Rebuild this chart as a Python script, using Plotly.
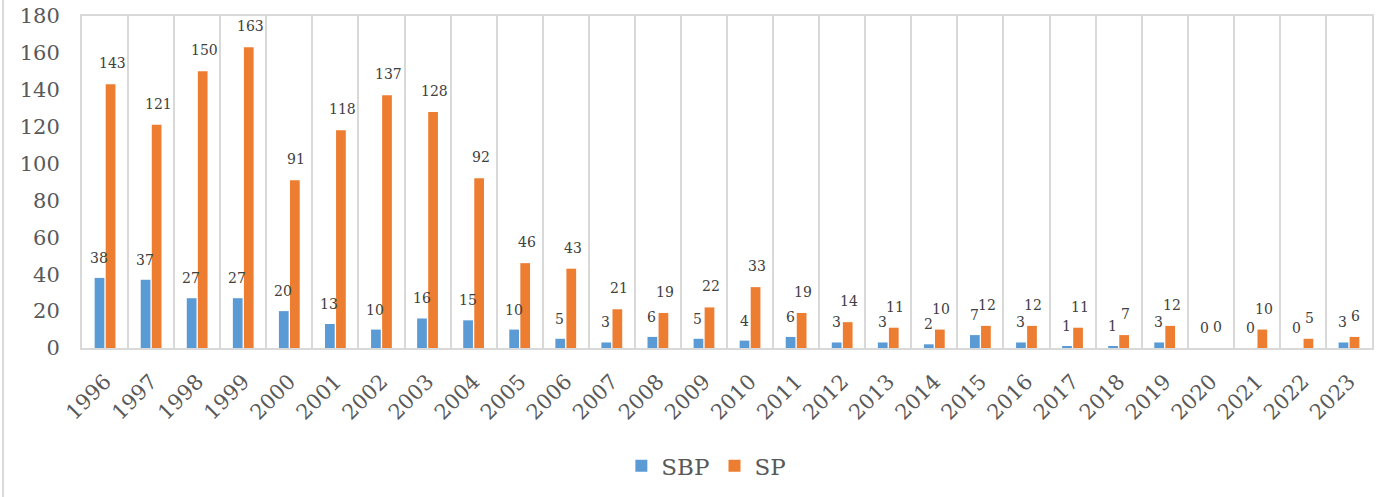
import plotly.graph_objects as go

years = [str(y) for y in range(1996, 2024)]
sbp = [38, 37, 27, 27, 20, 13, 10, 16, 15, 10, 5, 3, 6, 5, 4, 6, 3, 3, 2, 7, 3, 1, 1, 3, 0, 0, 0, 3]
sp = [143, 121, 150, 163, 91, 118, 137, 128, 92, 46, 43, 21, 19, 22, 33, 19, 14, 11, 10, 12, 12, 11, 7, 12, 0, 10, 5, 6]
y_ticks = [0, 20, 40, 60, 80, 100, 120, 140, 160, 180]

FONT = "DejaVu Serif"
TXT = "#595959"
BLUE = "#5B9BD5"
ORANGE = "#ED7D31"

fig = go.Figure()
fig.add_trace(go.Bar(name="SBP", x=years, y=sbp, marker=dict(color=BLUE, line=dict(width=0))))
fig.add_trace(go.Bar(name="SP", x=years, y=sp, marker=dict(color=ORANGE, line=dict(width=0))))

# data labels (x given as category index on the category axis)
annotations = []
for i, yr in enumerate(years):
    annotations.append(dict(x=i, y=sbp[i], xref="x", yref="y", text=str(sbp[i]), showarrow=False,
                            xshift=-6, yshift=20, yanchor="middle",
                            font=dict(family=FONT, size=14, color="#404040")))
    annotations.append(dict(x=i, y=sp[i], xref="x", yref="y", text=str(sp[i]), showarrow=False,
                            xshift=7, yshift=21, yanchor="middle",
                            font=dict(family=FONT, size=14, color="#404040")))

fig.update_layout(
    width=1387, height=497,
    margin=dict(l=82, r=15, t=16, b=149, autoexpand=False),
    paper_bgcolor="white", plot_bgcolor="white",
    barmode="group", bargap=0.52, bargroupgap=0.12,
    font=dict(family=FONT, color=TXT),
    showlegend=True,
    legend=dict(orientation="h", x=0.484, xanchor="center", y=-0.29, yanchor="top",
                font=dict(family=FONT, size=23, color=TXT), itemwidth=30),
    annotations=annotations,
    shapes=[dict(type="line", xref="paper", yref="paper", x0=-0.0612, x1=-0.0612, y0=-0.47, y1=1.05,
                 line=dict(color="#D9D9D9", width=2))],
)
fig.update_xaxes(type="category", tickson="boundaries", showgrid=True, gridcolor="#D9D9D9", gridwidth=2,
                 showline=True, linecolor="#D9D9D9", linewidth=2, mirror=True, ticks="",
                 tickangle=-45, ticklabelstandoff=11, tickfont=dict(family=FONT, size=21, color=TXT))
fig.update_yaxes(range=[0, 180], tickvals=y_ticks, showgrid=False, zeroline=False,
                 showline=True, linecolor="#D9D9D9", linewidth=2, mirror=True, ticks="",
                 ticklabelstandoff=16, tickfont=dict(family=FONT, size=21, color=TXT))

fig.write_html("out.html", config={"displayModeBar": False},
               post_script="document.body.style.margin='0';document.body.style.overflow='hidden';")
